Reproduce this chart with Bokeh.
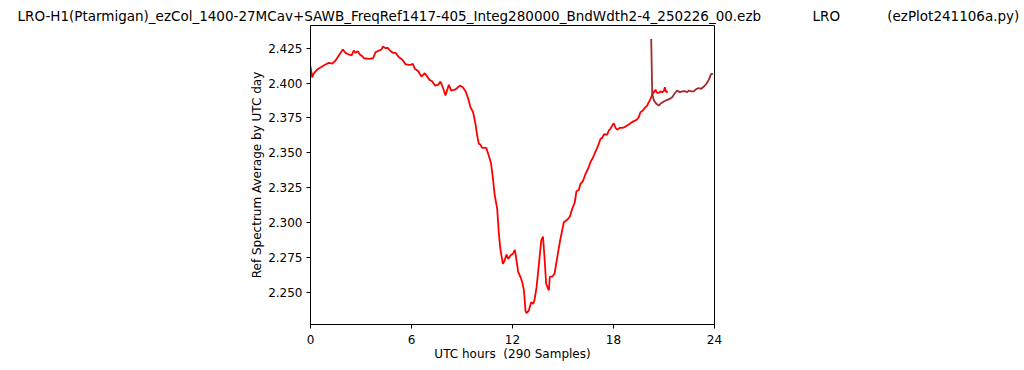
from bokeh.plotting import figure
from bokeh.models import Range1d, FixedTicker, PrintfTickFormatter
from bokeh.embed import file_html
from bokeh.resources import INLINE

NB = "\u00a0"
title_main = "LRO-H1(Ptarmigan)_ezCol_1400-27MCav+SAWB_FreqRef1417-405_Integ280000_BndWdth2-4_250226_00.ezb"
title_mid = "LRO"
title_right = "(ezPlot241106a.py)"
x_label = "UTC hours" + NB + NB + "(290 Samples)"
y_label = "Ref Spectrum Average by UTC day"
x_ticks = [0, 6, 12, 18, 24]
y_ticks = [2.250, 2.275, 2.300, 2.325, 2.350, 2.375, 2.400, 2.425]

red_hours = [0.0, 0.1, 0.2, 0.4, 0.69, 0.89, 1.09, 1.29, 1.49, 1.68, 1.92, 2.08, 2.28, 2.44, 2.57,
             2.67, 2.81, 2.93, 3.07, 3.17, 3.47, 3.72, 3.86, 4.06, 4.22, 4.30, 4.46, 4.59, 4.75,
             4.89, 5.05, 5.25, 5.45, 5.64, 5.84, 5.94, 6.08, 6.20, 6.40, 6.59, 6.79, 6.93, 7.07,
             7.23, 7.39, 7.58, 7.72, 7.86, 8.02, 8.12, 8.22, 8.36, 8.61, 8.87, 9.05, 9.21, 9.37,
             9.50, 9.66, 9.80, 9.90, 10.0, 10.08, 10.2, 10.44, 10.59, 10.73, 10.83, 10.93, 11.09,
             11.19, 11.29, 11.43, 11.53, 11.64, 11.75, 11.88, 12.02, 12.14, 12.24, 12.34, 12.48,
             12.58, 12.68, 12.77, 12.83, 12.97, 13.11, 13.23, 13.30, 13.43, 13.57, 13.71, 13.81,
             13.90, 14.0, 14.16, 14.22, 14.36, 14.50, 14.66, 14.81, 14.95, 15.05, 15.25, 15.41,
             15.55, 15.70, 15.80, 15.94, 16.04, 16.18, 16.34, 16.53, 16.63, 16.79, 16.93, 17.05,
             17.23, 17.33, 17.43, 17.63, 17.72, 17.82, 17.92, 18.02, 18.12, 18.22, 18.38, 18.52,
             18.66, 18.81, 18.97, 19.11, 19.21, 19.37, 19.50, 19.60, 19.74, 19.86, 20.0, 20.10,
             20.20, 20.30, 20.40, 20.50, 20.59, 20.69, 20.79, 20.89, 20.99, 21.05, 21.13, 21.23]
red_values = [2.4120, 2.4040, 2.4070, 2.4097, 2.4119, 2.4133, 2.4145, 2.4140, 2.4162, 2.4198,
              2.4241, 2.4217, 2.4205, 2.4198, 2.4233, 2.4217, 2.4229, 2.4205, 2.4193, 2.4178,
              2.4174, 2.4178, 2.4221, 2.4233, 2.4241, 2.4262, 2.4250, 2.4253, 2.4230, 2.4217,
              2.4217, 2.4186, 2.4169, 2.4136, 2.4131, 2.4131, 2.4138, 2.4102, 2.4085, 2.4047,
              2.4071, 2.4047, 2.4023, 2.4013, 2.3982, 2.3987, 2.4011, 2.3970, 2.3911, 2.3951,
              2.3987, 2.3946, 2.3954, 2.3982, 2.3970, 2.3942, 2.3887, 2.3827, 2.3791, 2.3708,
              2.3625, 2.3564, 2.3560, 2.3535, 2.3535, 2.3480, 2.3421, 2.3325, 2.3206, 2.3098,
              2.2919, 2.2799, 2.2703, 2.2727, 2.2770, 2.2739, 2.2763, 2.2775, 2.2804, 2.2727,
              2.2643, 2.2607, 2.2571, 2.2512, 2.2368, 2.2349, 2.2368, 2.2428, 2.2416, 2.2440,
              2.2536, 2.2703, 2.2871, 2.2899, 2.2751, 2.2560, 2.2512, 2.2612, 2.2612, 2.2632,
              2.2751, 2.2858, 2.2942, 2.3002, 2.3019, 2.3043, 2.3098, 2.3145, 2.3224, 2.3233,
              2.3277, 2.3296, 2.3349, 2.3396, 2.3432, 2.3468, 2.3509, 2.3540, 2.3600, 2.3607,
              2.3631, 2.3631, 2.3660, 2.3672, 2.3695, 2.3712, 2.3679, 2.3665, 2.3679, 2.3679,
              2.3684, 2.3695, 2.3708, 2.3720, 2.3727, 2.3736, 2.3755, 2.3791, 2.3803, 2.3822,
              2.3839, 2.3863, 2.3887, 2.3918, 2.3935, 2.3952, 2.3930, 2.3930, 2.3940, 2.3935,
              2.3942, 2.3970, 2.3935, 2.3939]

dark_hours = [20.24, 20.30, 20.40, 20.55, 20.69, 20.83, 20.99, 21.19, 21.35, 21.49, 21.62, 21.78,
              21.94, 22.08, 22.22, 22.38, 22.48, 22.61, 22.77, 22.93, 23.07, 23.21, 23.37, 23.52,
              23.66, 23.80, 23.92]
dark_values = [2.4317, 2.3923, 2.3875, 2.3851, 2.3839, 2.3856, 2.3868, 2.3880, 2.3887, 2.3899,
               2.3923, 2.3947, 2.3935, 2.3940, 2.3942, 2.3935, 2.3947, 2.3940, 2.3940, 2.3959,
               2.3964, 2.3959, 2.3975, 2.3995, 2.4023, 2.4066, 2.4066]

FONT = "DejaVu Sans"

p = figure(width=1024, height=370, output_backend="svg", toolbar_location=None,
           x_range=Range1d(0, 24), y_range=Range1d(2.2268, 2.4413),
           min_border_left=310, min_border_right=310, min_border_top=25, min_border_bottom=46)
p.grid.visible = False
p.outline_line_color = "black"
p.outline_line_alpha = 1.0
p.background_fill_color = "white"
p.border_fill_color = "white"

p.title.text = title_main + NB * 12 + title_mid + NB * 11 + title_right
p.title.text_font = FONT
p.title.text_font_size = "13.5px"
p.title.text_font_style = "normal"
p.title.text_color = "black"
p.title.align = "left"
p.title.offset = -293
p.title.standoff = 4

for ax in (p.xaxis[0], p.yaxis[0]):
    ax.major_label_text_font = FONT
    ax.major_label_text_font_size = "12px"
    ax.major_label_text_color = "black"
    ax.axis_label_text_font = FONT
    ax.axis_label_text_font_size = "12px"
    ax.axis_label_text_font_style = "normal"
    ax.axis_label_text_color = "black"
    ax.minor_tick_line_color = None
    ax.major_tick_in = 0
    ax.major_tick_out = 4
    ax.major_tick_line_color = "black"
    ax.axis_line_color = "black"

p.xaxis.ticker = FixedTicker(ticks=x_ticks)
p.yaxis.ticker = FixedTicker(ticks=y_ticks)
p.yaxis.formatter = PrintfTickFormatter(format="%.3f")
p.xaxis.axis_label = x_label
p.yaxis.axis_label = y_label
p.xaxis.major_label_standoff = 6
p.xaxis.axis_label_standoff = 0
p.yaxis.major_label_standoff = 4
p.yaxis.axis_label_standoff = 1

p.line(red_hours, red_values, line_color="#ff0000", line_width=1.8)
p.line(dark_hours, dark_values, line_color="#a52a2a", line_width=1.8)

open("out.html", "w").write(file_html(p, INLINE))
